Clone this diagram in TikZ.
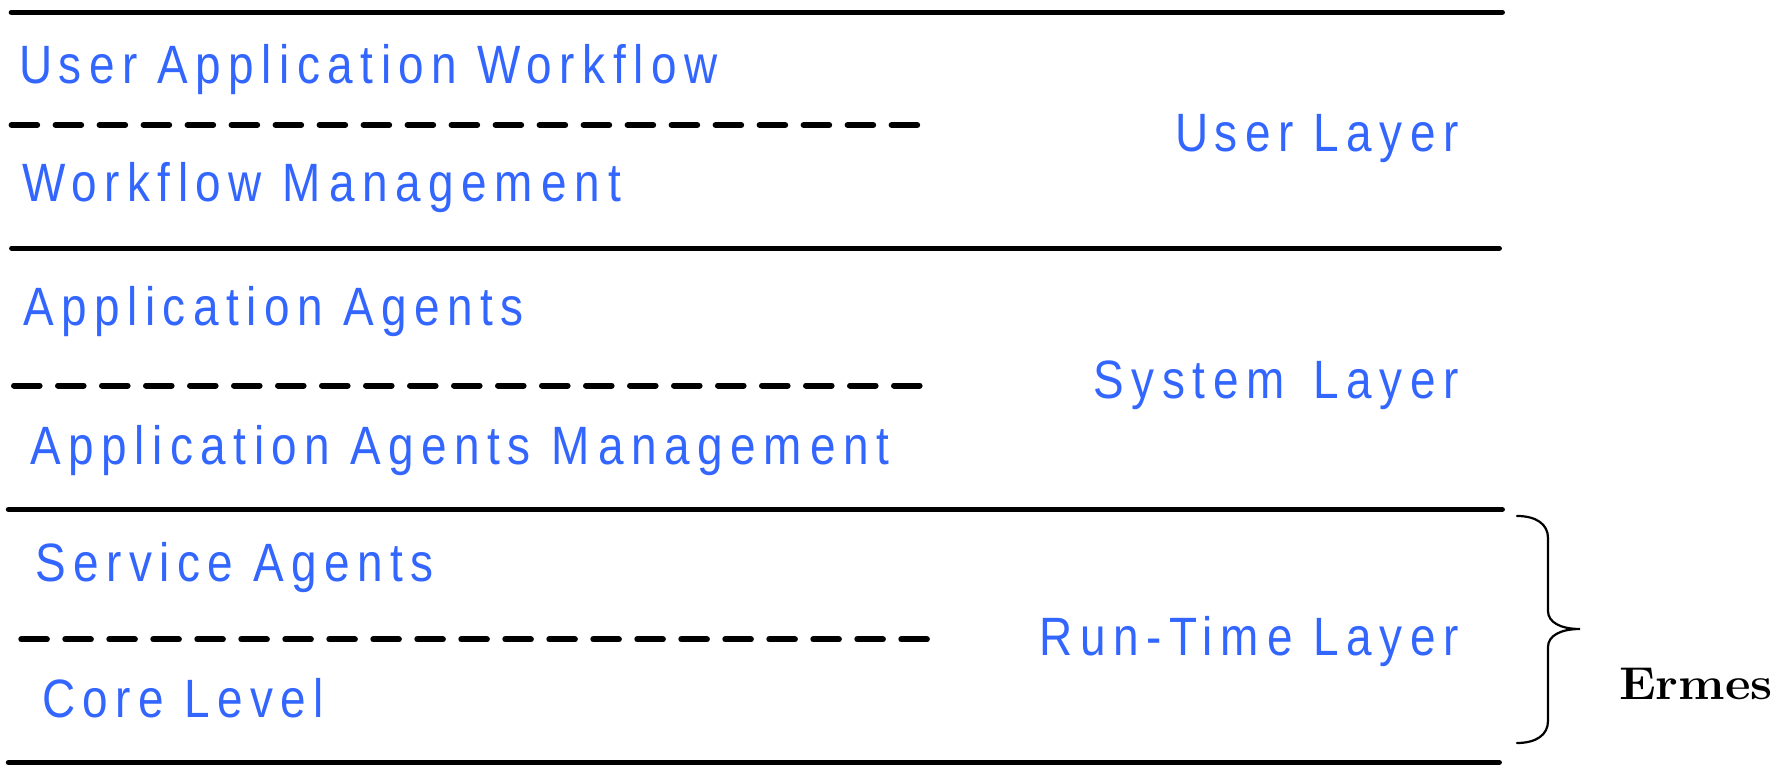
\documentclass[tikz,border=0pt]{standalone}
\usepackage{fontspec}
\newfontfamily\layerfont[FakeStretch=0.85,LetterSpace=13.9]{Liberation Sans}
\definecolor{layerblue}{RGB}{51,102,255}
% extra space after the wide letters U, W (\xgap) and M, m (\mgap)
\newcommand\xgap{\kern3pt}
\newcommand\mgap{\kern4.5pt}
\begin{document}
\begin{tikzpicture}[x=0.5pt,y=-0.5pt,
  rule/.style={line width=2.75pt,line cap=round},
  dashrule/.style={line width=3pt,line cap=round,dash pattern=on 12.8pt off 9.2pt},
  lbl/.style={inner sep=0pt,outer sep=0pt,text=layerblue,
    font=\layerfont\fontsize{27pt}{32pt}\selectfont},
  bracestyle/.style={line width=1.1pt,line cap=round}]
\useasboundingbox (0,0) rectangle (1784,765);

% layer boundaries
\draw[rule] (11.4,12.3) -- (1502.2,12.3);
\draw[rule] (11.8,248.3) -- (1499.2,248.3);
\draw[rule] (8.5,509.5) -- (1502.2,509.5);
\draw[rule] (8.5,762.5) -- (1499.2,762.5);

% sub-level separators
\draw[dashrule] (11.6,125) -- (918.6,125);
\draw[dashrule] (14,385.5) -- (923,385.5);
\draw[dashrule] (21.3,639.3) -- (930,639.3);

% left column: levels inside each layer
\node[lbl,anchor=base west] (uaw)    at (19.6,83.3)  {U\xgap ser Application W\xgap orkflow};
\node[lbl,anchor=base west] (wfm)    at (22.4,201)   {W\xgap orkflow M\mgap anagem\mgap ent};
\node[lbl,anchor=base west] (appag)  at (23.3,325)   {Application Agents};
\node[lbl,anchor=base west] (appagm) at (30.7,464.3) {Application Agents M\mgap anagem\mgap ent};
\node[lbl,anchor=base west] (servag) at (35.1,581.7) {Service Agents};
\node[lbl,anchor=base west] (corelv) at (42,717.3)   {Core Level};

% right column: layer names
\node[lbl,anchor=base east] (userl) at (1458.5,151.3) {U\xgap ser Layer};
\node[lbl,anchor=base east] (sysl)  at (1458.5,398.3) {System\mgap{} Layer};
\node[lbl,anchor=base east] (rtl)   at (1458.5,655)   {Run-Tim\mgap e Layer};

% brace grouping the run-time layer
\coordinate (btop) at (1517,516);
\coordinate (btip) at (1580,629);
\coordinate (bbot) at (1517,743);
\draw[bracestyle] (btop) .. controls (1536,516) and (1548,524) .. (1548,538)
  -- (1548,611) .. controls (1548,622) and (1560,629) .. (btip)
  .. controls (1560,629) and (1548,636) .. (1548,647)
  -- (1548,721) .. controls (1548,735) and (1536,743) .. (bbot);

\node[inner sep=0pt,anchor=base west,font=\fontsize{23pt}{28pt}\selectfont\bfseries] (ermes) at (1618.6,699) {\scalebox{1.08}[1]{Ermes}};
\end{tikzpicture}
\end{document}
